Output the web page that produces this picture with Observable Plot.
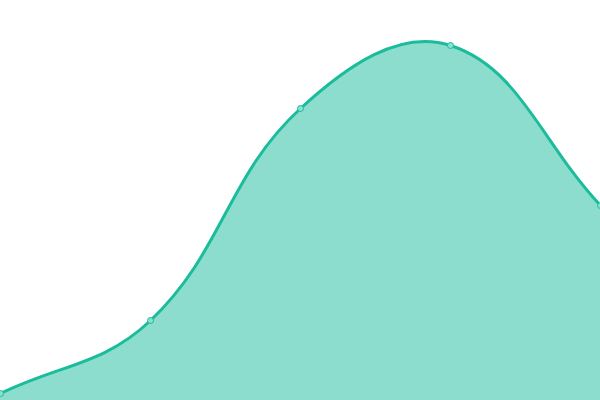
<!DOCTYPE html>
<html><head><meta charset="utf-8">
<script src="https://cdn.jsdelivr.net/npm/d3@7"></script>
<script src="https://cdn.jsdelivr.net/npm/@observablehq/plot@0.6"></script>
<style>html,body{margin:0;padding:0;background:#fff;overflow:hidden}</style>
</head><body><div id="chart"></div>
<script>
const xs = [0, 1, 2, 3, 4];
const values = [1.75, 20, 73, 88.75, 48.75];
const data = xs.map((x, i) => ({x, y: values[i]}));

// Tension-based spline (distance-weighted cardinal), tension 0.4
function splineCurve(tension) {
  function Curve(context) { this._context = context; }
  Curve.prototype = {
    areaStart() { this._line = 0; },
    areaEnd() { this._line = NaN; },
    lineStart() { this._x = []; this._y = []; },
    point(x, y) { this._x.push(+x); this._y.push(+y); },
    lineEnd() {
      const x = this._x, y = this._y, n = x.length, c = this._context;
      if (n) {
        this._line ? c.lineTo(x[0], y[0]) : c.moveTo(x[0], y[0]);
        if (n === 2) c.lineTo(x[1], y[1]);
        else if (n > 2) {
          const pcx = [], pcy = [], ncx = [], ncy = [];
          for (let i = 0; i < n; i++) {
            const pi = i === 0 ? i : i - 1, ni = i === n - 1 ? i : i + 1;
            const d01 = Math.hypot(x[i] - x[pi], y[i] - y[pi]);
            const d12 = Math.hypot(x[ni] - x[i], y[ni] - y[i]);
            let s01 = d01 / (d01 + d12), s12 = d12 / (d01 + d12);
            if (!isFinite(s01)) s01 = 0;
            if (!isFinite(s12)) s12 = 0;
            const fa = tension * s01, fb = tension * s12;
            pcx[i] = x[i] - fa * (x[ni] - x[pi]);
            pcy[i] = y[i] - fa * (y[ni] - y[pi]);
            ncx[i] = x[i] + fb * (x[ni] - x[pi]);
            ncy[i] = y[i] + fb * (y[ni] - y[pi]);
          }
          for (let i = 0; i < n - 1; i++) {
            c.bezierCurveTo(ncx[i], ncy[i], pcx[i + 1], pcy[i + 1], x[i + 1], y[i + 1]);
          }
        }
      }
      if (this._line || (this._line !== 0 && n === 1)) c.closePath();
      this._line = 1 - this._line;
      this._x = this._y = null;
    }
  };
  return (context) => new Curve(context);
}
const curve = splineCurve(0.4);

const chart = Plot.plot({
  width: 600, height: 400,
  margin: 0,
  x: {domain: [0, 4], axis: null},
  y: {domain: [0, 100], axis: null},
  marks: [
    Plot.areaY(data, {x: "x", y: "y", curve, fill: "#1abc9c", fillOpacity: 0.5}),
    Plot.lineY(data, {x: "x", y: "y", curve, stroke: "#1abc9c", strokeWidth: 3}),
    Plot.dot(data, {x: "x", y: "y", r: 3, fill: "#8ae0cf", stroke: "#1abc9c", strokeWidth: 1})
  ]
});
document.getElementById("chart").appendChild(chart);
</script></body></html>
